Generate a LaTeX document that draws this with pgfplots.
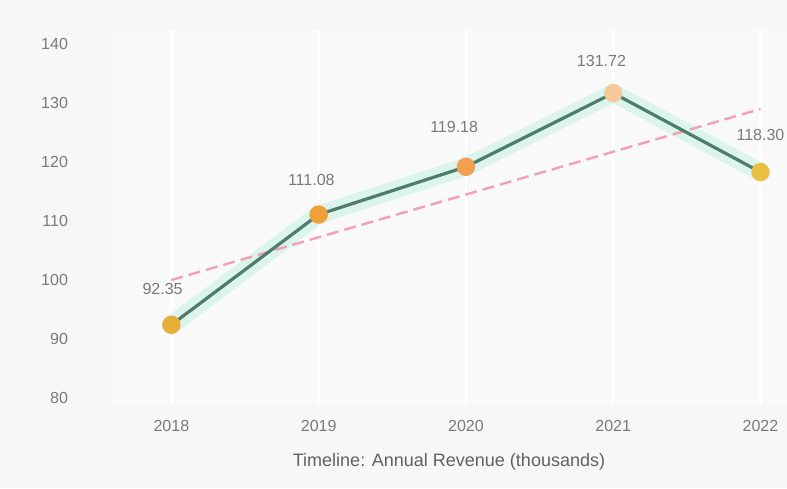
\documentclass[border=0pt]{standalone}
\usepackage{pgfplots}
\pgfplotsset{compat=1.18}
\usetikzlibrary{backgrounds}
\usepackage{fontspec}
\setmainfont{Liberation Sans}
\definecolor{bg}{HTML}{F7F7F7}
\definecolor{plotbg}{HTML}{F9F9F9}
\definecolor{lineC}{HTML}{4E7D6C}
\definecolor{trendC}{HTML}{F2A0B4}
\definecolor{glowC}{HTML}{C8F2E4}
\definecolor{txt}{HTML}{7A7A7A}
\definecolor{mA}{HTML}{E8AE3A}
\definecolor{mB}{HTML}{F0A038}
\definecolor{mC}{HTML}{F2A050}
\definecolor{mD}{HTML}{F6C89A}
\definecolor{mE}{HTML}{EAC040}
\begin{document}
\begin{tikzpicture}
\begin{axis}[
  scale only axis,
  width=338pt, height=187.5pt,
  xmin=-0.41, xmax=4.18,
  ymin=78.8, ymax=142.4,
  xtick={0,1,2,3,4},
  xticklabels={2018,2019,2020,2021,2022},
  ytick={80,90,100,110,120,130,140},
  axis line style={draw=none},
  tick style={draw=none},
  axis background/.style={fill=plotbg},
  xmajorgrids, grid style={white, line width=1.2pt},
  ticklabel style={font=\fontsize{8}{9}\selectfont, text=txt},
  /pgf/number format/assume math mode=true,
  xlabel={Timeline: Annual Revenue (thousands)},
  xlabel style={font=\fontsize{9}{10}\selectfont, text=black!62, yshift=-4pt},
  xticklabel style={yshift=-4pt},
  yticklabel style={xshift=-18pt},
  clip=false,
]
\addplot[glowC, line width=9pt, opacity=0.6, line join=round] coordinates {(0,92.4) (1,111.1) (2,119.2) (3,131.7) (4,118.3)};
\addplot[trendC, line width=1.2pt, dash pattern=on 6pt off 3pt] coordinates {(0,100.0) (4,129.0)};
\addplot[lineC, line width=1.6pt, mark=*, mark size=3.8pt,
  scatter, point meta=explicit symbolic,
  scatter/classes={a={draw=mA,fill=mA}, b={draw=mB,fill=mB}, c={draw=mC,fill=mC}, d={draw=mD,fill=mD}, e={draw=mE,fill=mE}}]
  coordinates {(0,92.4)[a] (1,111.1)[b] (2,119.2)[c] (3,131.7)[d] (4,118.3)[e]};
\node[font=\fontsize{8}{9}\selectfont, text=txt] at (axis cs:-0.06,98.4) {92.35};
\node[font=\fontsize{8}{9}\selectfont, text=txt] at (axis cs:0.95,116.9) {111.08};
\node[font=\fontsize{8}{9}\selectfont, text=txt] at (axis cs:1.92,126.0) {119.18};
\node[font=\fontsize{8}{9}\selectfont, text=txt] at (axis cs:2.92,137.2) {131.72};
\node[font=\fontsize{8}{9}\selectfont, text=txt] at (axis cs:4.0,124.6) {118.30};
\end{axis}
\pgfresetboundingbox
\begin{scope}[on background layer]
\path[fill=bg] (current axis.south west) ++(-55.5pt,-41.5pt) rectangle ([yshift=15pt]current axis.north east);
\end{scope}
\end{tikzpicture}
\end{document}
